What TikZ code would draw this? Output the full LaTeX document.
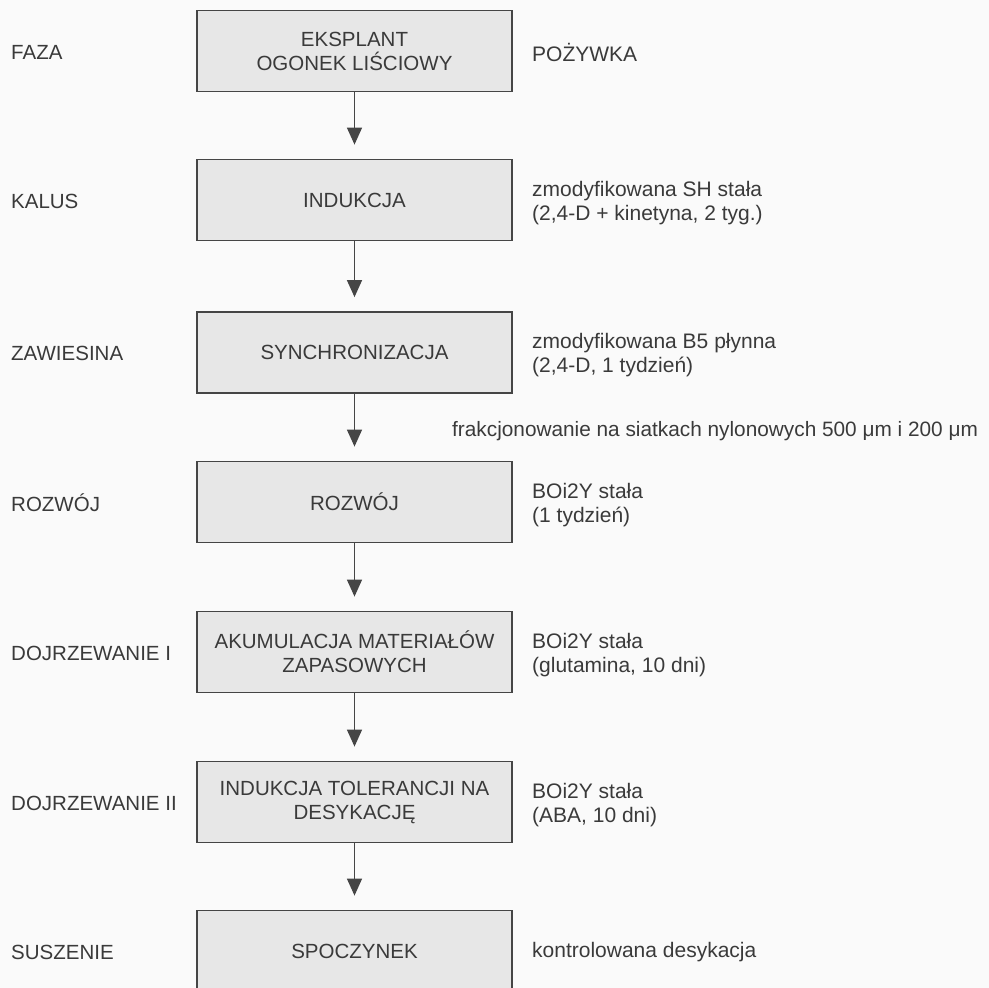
\documentclass[tikz,border=0pt]{standalone}
\usepackage{fontspec}
\setmainfont{Liberation Sans}
\usetikzlibrary{arrows.meta}
\definecolor{ink}{HTML}{3A3A3A}
\definecolor{boxfill}{HTML}{E7E7E7}
\definecolor{boxline}{HTML}{454545}
\definecolor{paper}{HTML}{FAFAFA}
\tikzset{
  stagebox/.style={draw=boxline, line width=1.8pt, fill=boxfill, rectangle,
    minimum width=315pt, minimum height=81pt, inner sep=0pt, align=center,
    text=ink, font=\fontsize{20.5}{24}\selectfont},
  phase/.style={anchor=west, text=ink, inner sep=0pt, font=\fontsize{20.5}{24}\selectfont},
  medium/.style={anchor=west, text=ink, inner sep=0pt, align=left, font=\fontsize{21}{24}\selectfont},
  arr/.style={draw=boxline, line width=1.4pt, -{Triangle[length=17pt,width=15pt]}}
}
\begin{document}
\begin{tikzpicture}[x=1pt,y=-1pt]
\fill[paper] (0,0) rectangle (989,988);
\useasboundingbox (0,0) rectangle (989,988);
\clip (0,0) rectangle (989,988);

\node[stagebox] (b1) at (354.5,51) {EKSPLANT\\OGONEK LIŚCIOWY};
\node[stagebox] (b2) at (354.5,200) {INDUKCJA};
\node[stagebox] (b3) at (354.5,352.5) {SYNCHRONIZACJA};
\node[stagebox] (b4) at (354.5,502) {ROZWÓJ};
\node[stagebox] (b5) at (354.5,652) {AKUMULACJA MATERIAŁÓW\\ZAPASOWYCH};
\node[stagebox] (b6) at (354.5,802) {INDUKCJA TOLERANCJI NA\\DESYKACJĘ};
\node[stagebox] (b7) at (354.5,951) {SPOCZYNEK};

\draw[arr] (b1.south) -- ([yshift=14pt]b2.north);
\draw[arr] (b2.south) -- ([yshift=14pt]b3.north);
\draw[arr] (b3.south) -- ([yshift=14pt]b4.north);
\draw[arr] (b4.south) -- ([yshift=14pt]b5.north);
\draw[arr] (b5.south) -- ([yshift=14pt]b6.north);
\draw[arr] (b6.south) -- ([yshift=14pt]b7.north);

\node[phase] (p1) at (11,52) {FAZA};
\node[phase] (p2) at (11,201) {KALUS};
\node[phase] (p3) at (11,353.5) {ZAWIESINA};
\node[phase] (p4) at (11,503) {ROZWÓJ};
\node[phase] (p5) at (11,653) {DOJRZEWANIE I};
\node[phase] (p6) at (11,803) {DOJRZEWANIE II};
\node[phase] (p7) at (11,952) {SUSZENIE};

\node[medium] (m1) at (532,52) {POŻYWKA};
\node[medium] (m2) at (532,203) {zmodyfikowana SH stała\\(2,4-D + kinetyna, 2 tyg.)};
\node[medium] (m3) at (532,355.5) {zmodyfikowana B5 płynna\\(2,4-D, 1 tydzień)};
\node[medium, font=\fontsize{20.8}{24}\selectfont] (fr) at (452,431) {frakcjonowanie na siatkach nylonowych 500 μm i 200 μm};
\node[medium] (m4) at (532,505) {BOi2Y stała\\(1 tydzień)};
\node[medium] (m5) at (532,655) {BOi2Y stała\\(glutamina, 10 dni)};
\node[medium] (m6) at (532,805) {BOi2Y stała\\(ABA, 10 dni)};
\node[medium] (m7) at (532,952) {kontrolowana desykacja};
\end{tikzpicture}
\end{document}
